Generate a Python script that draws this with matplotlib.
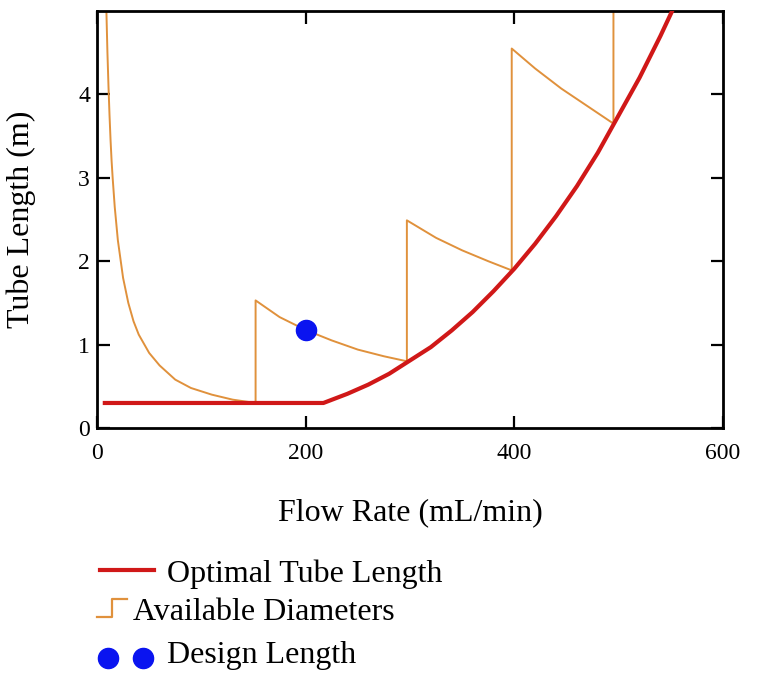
import numpy as np
import matplotlib
matplotlib.use("Agg")
import matplotlib.pyplot as plt

plt.rcParams['font.family'] = ['Liberation Serif', 'DejaVu Serif']

# optimal tube length (red curve)
opt_q = [7.5, 100, 217, 240, 260, 280, 300, 320, 340, 360, 380, 400, 420, 440, 460, 480, 500, 520, 540, 552]
opt_l = [0.30, 0.30, 0.30, 0.41, 0.52, 0.65, 0.81, 0.97, 1.17, 1.39, 1.64, 1.91, 2.21, 2.54, 2.90, 3.30, 3.75, 4.20, 4.70, 5.02]

# available diameters (orange saw-tooth), one connected trace
avail_q = [7.5, 8.5, 9, 10, 11, 12, 13, 14, 15, 17, 20, 25, 30, 35, 40, 50, 60, 75, 90, 110, 130, 152,
           152, 175, 200, 225, 250, 275, 297,
           297, 325, 350, 375, 397.5,
           397.5, 420, 445, 470, 495,
           495]
avail_l = [6.0, 5.3, 5.0, 4.5, 4.1, 3.75, 3.45, 3.2, 3.0, 2.65, 2.25, 1.8, 1.5, 1.28, 1.12, 0.9, 0.75, 0.58, 0.48, 0.40, 0.34, 0.30,
           1.53, 1.33, 1.175, 1.05, 0.94, 0.86, 0.80,
           2.49, 2.28, 2.13, 2.0, 1.89,
           4.55, 4.31, 4.07, 3.86, 3.65,
           6.0]

# design point
design_q = [200]
design_l = [1.175]

red = '#D01818'
orange = '#E0913C'
blue = '#0A14F0'

W, H = 761, 694
fig = plt.figure(figsize=(W / 100, H / 100), dpi=100)
ax = fig.add_axes([97 / W, 1 - 428 / H, (723 - 97) / W, (428 - 11) / H])

ax.plot(avail_q, avail_l, color=orange, lw=1.4, zorder=2)
ax.plot(opt_q, opt_l, color=red, lw=3, zorder=3)
ax.plot(design_q, design_l, 'o', color=blue, ms=14.5, zorder=4)

ax.set_xlim(0, 600)
ax.set_ylim(0, 5)
ax.set_xticks([0, 200, 400, 600])
ax.set_yticks([0, 1, 2, 3, 4])
ax.tick_params(direction='in', length=9, width=1.6, labelsize=17,
               top=True, right=True, pad=5)
ax.tick_params(axis='x', pad=11)
for s in ax.spines.values():
    s.set_linewidth(2)

ax.set_xlabel('Flow Rate (mL/min)', fontsize=23)
ax.xaxis.label.set_va('baseline')
ax.xaxis.set_label_coords(0.5, -(520 - 428) / 417)
ax.set_ylabel('Tube Length (m)', fontsize=23)
ax.yaxis.label.set_va('center')
ax.yaxis.set_label_coords((21 - 97) / 626, 0.5)

# legend drawn below the plot in pixel coords
lax = fig.add_axes([0, 0, 1, 1], zorder=-1)
lax.set_xlim(0, W)
lax.set_ylim(H, 0)
lax.axis('off')
lax.plot([100, 154], [570, 570], color=red, lw=3)
lax.plot([97, 112, 112, 127], [617, 617, 599, 599], color=orange, lw=1.6)
lax.plot([108, 143], [658, 658], 'o', color=blue, ms=14.5)
lax.text(167, 582, 'Optimal Tube Length', fontsize=23, va='baseline')
lax.text(133, 620, 'Available Diameters', fontsize=23, va='baseline')
lax.text(167, 663, 'Design Length', fontsize=23, va='baseline')

fig.savefig('out.png', dpi=100)
